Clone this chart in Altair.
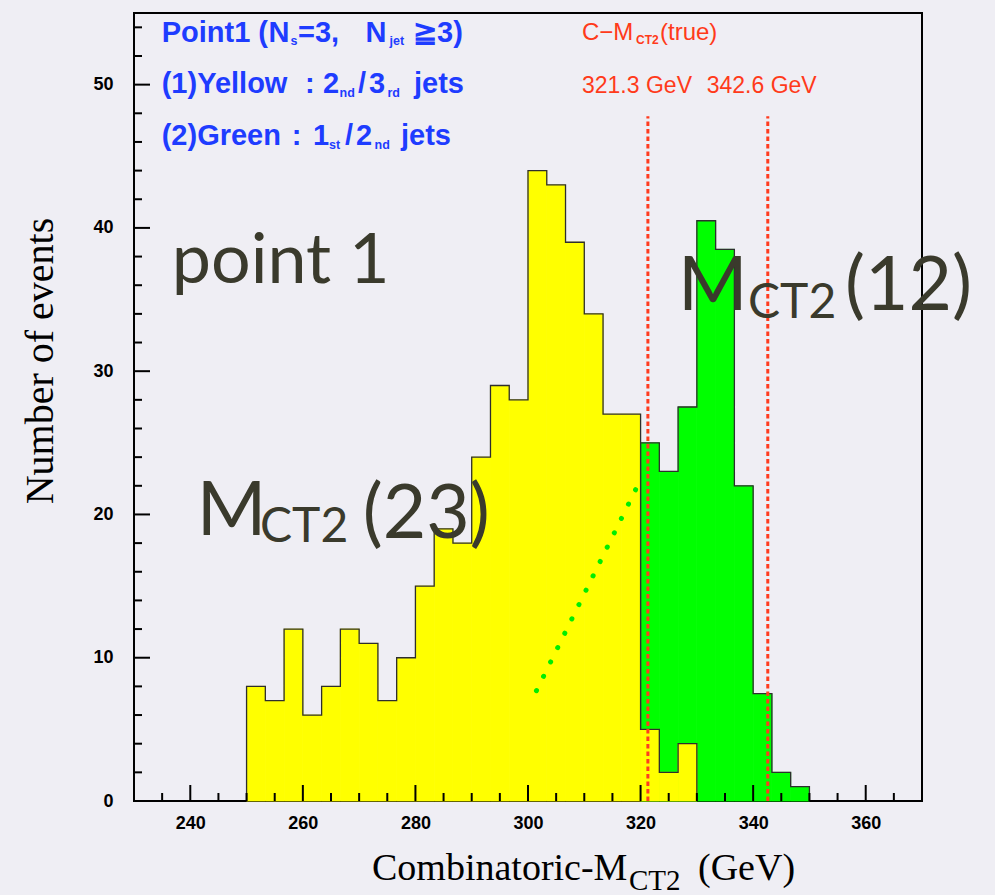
import altair as alt
import pandas as pd
import numpy as np

# ---------------- data ----------------
bin_width = 10.0 / 3.0
yellow_start = 250.0
yellow_counts = [8, 7, 12, 6, 8, 12, 11, 7, 10, 15, 19, 18, 24, 29, 28, 44, 43, 39, 34, 27, 27, 5, 2, 4]
green_start = 320.0
green_counts = [25, 23, 27.5, 40.5, 38.5, 22, 7.5, 2, 1]
c_mct2_true = [321.3, 342.6]
marker_top = 47.8
fit_x = [301.5, 319.2]
fit_y = [7.7, 21.8]
x_labels = [240, 260, 280, 300, 320, 340, 360]
y_labels = [0, 10, 20, 30, 40, 50]

# ---------------- layout ----------------
W, H = 788, 788
OX, OY = 134, 13
BG = "#efeef4"

xs = alt.Scale(domain=[230, 370], nice=False, zero=False)
ys = alt.Scale(domain=[0, 55], nice=False, zero=False)
AX = alt.Axis(values=x_labels, format="d", title=None, ticks=False, tickSize=0, domain=False,
              grid=False, labelPadding=13, labelFont="Liberation Sans", labelFontWeight="bold",
              labelFontSize=18, labelColor="black")
AY = alt.Axis(values=y_labels, format="d", title=None, ticks=False, tickSize=0, domain=False,
              grid=False, labelPadding=21, labelFont="Liberation Sans", labelFontWeight="bold",
              labelFontSize=18, labelColor="black")


def X(f):
    return alt.X(f, scale=xs, axis=AX)


def Y(f):
    return alt.Y(f, scale=ys, axis=AY)


def hist_df(start, counts):
    lo = [start + i * bin_width for i in range(len(counts))]
    return pd.DataFrame({"lo": lo, "hi": [v + bin_width for v in lo], "n": counts,
                         "base": [0.0] * len(counts)})


def outline_df(start, counts):
    xs_, ys_ = [start], [0.0]
    for i, c in enumerate(counts):
        xs_.append(start + i * bin_width)
        ys_.append(c)
    xs_.append(start + len(counts) * bin_width)
    ys_.append(0.0)
    return pd.DataFrame({"x": xs_, "y": ys_, "o": list(range(len(xs_)))})


def hist_layers(start, counts, color):
    fill = alt.Chart(hist_df(start, counts)).mark_rect(
        color=color, stroke=color, strokeWidth=0.8
    ).encode(x=X("lo:Q"), x2="hi:Q", y=Y("n:Q"), y2="base:Q")
    edge = alt.Chart(outline_df(start, counts)).mark_line(
        interpolate="step-after", color="#2e2e2e", strokeWidth=1.3
    ).encode(x=X("x:Q"), y=Y("y:Q"), order=alt.Order("o:Q"))
    return [fill, edge]


x_major = [v for v in range(240, 370, 20)]
x_minor = [v for v in range(235, 370, 5) if v % 20 != 0]
y_major = [v for v in range(0, 56, 10)]
y_minor = [v for v in range(2, 56, 2) if v % 10 != 0]


def xticks(vals, length):
    return alt.Chart(pd.DataFrame({"v": vals})).mark_rule(color="black", strokeWidth=2).encode(
        x=X("v:Q"), y=alt.value(H), y2=alt.value(H - length))


def yticks(vals, length):
    return alt.Chart(pd.DataFrame({"v": vals})).mark_rule(color="black", strokeWidth=2).encode(
        y=Y("v:Q"), x=alt.value(0), x2=alt.value(length))


markers = alt.Chart(pd.DataFrame({"x": c_mct2_true, "bottom": [0.0] * 2, "top": [marker_top] * 2})).mark_rule(
    color="#ff3b1f", strokeWidth=3, strokeDash=[4.5, 3]
).encode(x=X("x:Q"), y=Y("bottom:Q"), y2="top:Q")

fit = alt.Chart(pd.DataFrame({"x": fit_x, "y": fit_y})).mark_line(
    color="#00ee00", strokeWidth=5, strokeDash=[0.1, 15.9], strokeCap="round"
).encode(x=X("x:Q"), y=Y("y:Q"))

# ---------------- texts ----------------
BLUE = "#1e3cff"
RED = "#ff3a1a"
DARK = "#3a3a2c"
SANS = "Liberation Sans"
SERIF = "Liberation Serif"
BIG = "Lato"
B1, B2, B3 = 41.7, 93.3, 145.0
S = 12.5

texts = [
    # (text, px, py, size, font, weight, color, angle, align)
    ("Point1 (", 161.7, B1, 29, SANS, "bold", BLUE, 0, "left"),
    ("N", 268.5, B1, 29, SANS, "bold", BLUE, 0, "left"),
    ("s", 290.5, B1 + 3.5, S, SANS, "bold", BLUE, 0, "left"),
    ("=3,", 298, B1, 29, SANS, "bold", BLUE, 0, "left"),
    ("N", 376, B1, 29, SANS, "bold", BLUE, 0, "center"),
    ("jet", 389.5, B1 + 3.5, S, SANS, "bold", BLUE, 0, "left"),
    ("≧3)", 413, B1, 29, SANS, "bold", BLUE, 0, "left"),
    ("(1)Yellow", 161.7, B2, 29, SANS, "bold", BLUE, 0, "left"),
    (":", 305, B2, 29, SANS, "bold", BLUE, 0, "left"),
    ("2", 323, B2, 29, SANS, "bold", BLUE, 0, "left"),
    ("nd", 339.5, B2 + 3.5, S, SANS, "bold", BLUE, 0, "left"),
    ("/", 358, B2, 29, SANS, "bold", BLUE, 0, "left"),
    ("3", 369, B2, 29, SANS, "bold", BLUE, 0, "left"),
    ("rd", 387.5, B2 + 3.5, S, SANS, "bold", BLUE, 0, "left"),
    ("jets", 414, B2, 29, SANS, "bold", BLUE, 0, "left"),
    ("(2)Green", 161.7, B3, 29, SANS, "bold", BLUE, 0, "left"),
    (":", 291.7, B3, 29, SANS, "bold", BLUE, 0, "left"),
    ("1", 313, B3, 29, SANS, "bold", BLUE, 0, "left"),
    ("st", 329, B3 + 3.5, S, SANS, "bold", BLUE, 0, "left"),
    ("/", 345, B3, 29, SANS, "bold", BLUE, 0, "left"),
    ("2", 356, B3, 29, SANS, "bold", BLUE, 0, "left"),
    ("nd", 374.5, B3 + 3.5, S, SANS, "bold", BLUE, 0, "left"),
    ("jets", 401, B3, 29, SANS, "bold", BLUE, 0, "left"),
    ("C−M", 582, 40, 24, SANS, "normal", RED, 0, "left"),
    ("CT2", 636, 43.5, 12, SANS, "bold", RED, 0, "left"),
    ("(true)", 660, 40, 24, SANS, "normal", RED, 0, "left"),
    ("321.3 GeV", 582, 93.3, 23, SANS, "normal", RED, 0, "left"),
    ("342.6 GeV", 706.7, 93.3, 23, SANS, "normal", RED, 0, "left"),
    ("point 1", 171.7, 283.3, 70, BIG, "normal", DARK, 0, "left"),
    ("M", 196.7, 535, 75, BIG, "normal", DARK, 0, "left"),
    ("CT2", 260, 541.7, 48, BIG, "normal", DARK, 0, "left"),
    ("(23)", 362.7, 538, 75, BIG, "normal", DARK, 0, "left"),
    ("M", 678, 310, 75, BIG, "normal", DARK, 0, "left"),
    ("CT2", 748, 318, 48, BIG, "normal", DARK, 0, "left"),
    ("(12)", 845, 310, 75, BIG, "normal", DARK, 0, "left"),
    ("Combinatoric-M", 372, 880, 38, SERIF, "normal", "black", 0, "left"),
    ("CT2", 629, 890, 29, SERIF, "normal", "black", 0, "left"),
    ("(GeV)", 698, 880, 38, SERIF, "normal", "black", 0, "left"),
    ("Number of events", 53, 361, 40, SERIF, "normal", "black", 270, "center"),
]

txt_df = pd.DataFrame({"a": [0]})
text_layers = []
for (t, px, py, size, font, weight, color, angle, align) in texts:
    kw = dict(text=t, fontSize=size, font=font, fontWeight=weight, color=color,
              align=align, baseline="alphabetic")
    if angle:
        kw["angle"] = angle
    text_layers.append(
        alt.Chart(txt_df).mark_text(**kw).encode(x=alt.value(px - OX), y=alt.value(py - OY))
    )

layers = []
layers += hist_layers(green_start, green_counts, "#00ff00")
layers += hist_layers(yellow_start, yellow_counts, "#ffff00")
layers += [fit, markers,
           xticks(x_major, 16), xticks(x_minor, 8),
           yticks(y_major, 16), yticks(y_minor, 8)]
layers += text_layers

chart = alt.layer(*layers).properties(
    width=W, height=H,
    background=BG,
    autosize=alt.AutoSizeParams(type="none"),
    padding={"left": OX, "top": OY, "right": 995 - OX - W, "bottom": 895 - OY - H},
).configure_view(stroke="black", strokeWidth=2)

chart.save("out.html", embed_options={"renderer": "svg", "actions": False})
